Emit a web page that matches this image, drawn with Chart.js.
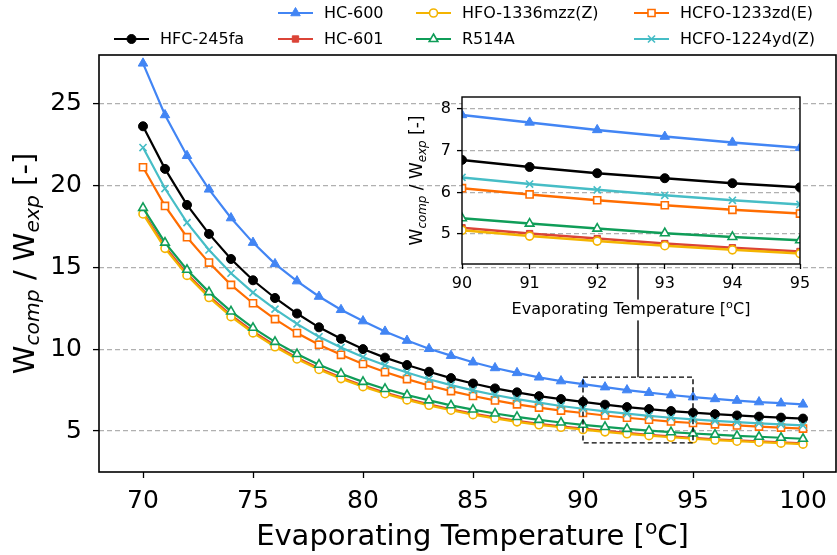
<!DOCTYPE html>
<html>
<head>
<meta charset="utf-8">
<script src="https://cdn.jsdelivr.net/npm/chart.js@4.4.1/dist/chart.umd.min.js"></script>
<style>
  html, body { margin: 0; padding: 0; background: #fff; }
  #wrap { position: relative; width: 837px; height: 555px; }
  #main { position: absolute; left: 0; top: 0; }
  #inset { position: absolute; left: 380px; top: 85px; }
</style>
</head>
<body>
<div id="wrap">
  <canvas id="main" width="837" height="555"></canvas>
  <canvas id="inset" width="457" height="245"></canvas>
</div>
<script>
const temps = [70, 71, 72, 73, 74, 75, 76, 77, 78, 79, 80, 81, 82, 83, 84, 85,
               86, 87, 88, 89, 90, 91, 92, 93, 94, 95, 96, 97, 98, 99, 100];

const hfc245fa   = [23.60, 21.00, 18.80, 17.03, 15.50, 14.20, 13.12, 12.17, 11.33, 10.63, 10.00, 9.48, 9.03, 8.62, 8.23, 7.90, 7.60, 7.36, 7.13, 6.95, 6.78, 6.61, 6.46, 6.34, 6.22, 6.12, 6.03, 5.95, 5.88, 5.82, 5.76];
const hc600      = [27.44, 24.29, 21.80, 19.75, 18.00, 16.50, 15.20, 14.15, 13.21, 12.40, 11.71, 11.08, 10.52, 10.02, 9.60, 9.20, 8.85, 8.55, 8.28, 8.05, 7.86, 7.68, 7.50, 7.34, 7.20, 7.07, 6.96, 6.86, 6.77, 6.70, 6.63];
const hc601      = [18.35, 16.25, 14.60, 13.24, 12.07, 11.08, 10.22, 9.48, 8.83, 8.27, 7.78, 7.35, 6.97, 6.63, 6.33, 6.07, 5.83, 5.62, 5.44, 5.29, 5.15, 5.01, 4.89, 4.77, 4.67, 4.58, 4.50, 4.43, 4.37, 4.31, 4.25];
const hfo1336    = [18.25, 16.15, 14.50, 13.15, 11.98, 10.99, 10.14, 9.40, 8.76, 8.20, 7.71, 7.28, 6.90, 6.57, 6.27, 6.00, 5.77, 5.56, 5.38, 5.23, 5.09, 4.95, 4.83, 4.72, 4.62, 4.53, 4.45, 4.38, 4.32, 4.26, 4.20];
const r514a      = [18.62, 16.50, 14.84, 13.48, 12.30, 11.30, 10.44, 9.70, 9.05, 8.50, 8.00, 7.57, 7.20, 6.87, 6.57, 6.31, 6.07, 5.86, 5.68, 5.52, 5.38, 5.25, 5.13, 5.02, 4.93, 4.85, 4.78, 4.71, 4.65, 4.59, 4.53];
const hcfo1233zd = [21.10, 18.74, 16.83, 15.28, 13.92, 12.80, 11.83, 10.98, 10.27, 9.65, 9.09, 8.60, 8.17, 7.78, 7.44, 7.14, 6.87, 6.63, 6.43, 6.25, 6.10, 5.95, 5.81, 5.69, 5.58, 5.49, 5.41, 5.34, 5.27, 5.21, 5.15];
const hcfo1224yd = [22.30, 19.80, 17.72, 16.05, 14.63, 13.45, 12.44, 11.54, 10.75, 10.10, 9.52, 9.02, 8.57, 8.16, 7.80, 7.48, 7.20, 6.95, 6.73, 6.53, 6.36, 6.20, 6.06, 5.93, 5.81, 5.71, 5.62, 5.54, 5.47, 5.41, 5.35];

const seriesNames = ["HFC-245fa", "HC-600", "HC-601", "HFO-1336mzz(Z)", "R514A", "HCFO-1233zd(E)", "HCFO-1224yd(Z)"];
const seriesData  = [hfc245fa, hc600, hc601, hfo1336, r514a, hcfo1233zd, hcfo1224yd];

const mainXTicks  = [70, 75, 80, 85, 90, 95, 100];
const mainYTicks  = [5, 10, 15, 20, 25];
const insetXTicks = [90, 91, 92, 93, 94, 95];
const insetYTicks = [5, 6, 7, 8];

const MAIN_X = [68, 101.5], MAIN_Y = [2.5, 27.95];
const INSET_X = [90, 95], INSET_Y = [4.28, 8.29];

const FONT = '"DejaVu Sans", sans-serif';
const styles = [
    { color: "#000000", shape: "circle",   fill: true,  r: 4.5 },
    { color: "#4285F4", shape: "triangle", fill: true,  r: 5.5 },
    { color: "#DB4437", shape: "rect",     fill: true,  r: 4.5 },
    { color: "#F4B400", shape: "circle",   fill: false, r: 4 },
    { color: "#0F9D58", shape: "triangle", fill: false, r: 5 },
    { color: "#FF6D01", shape: "rect",     fill: false, r: 5 },
    { color: "#46BDC6", shape: "crossRot", fill: false, r: 5 }
];

function makeDatasets(lw) {
    return seriesData.map((vals, i) => ({
        label: seriesNames[i],
        data: temps.map((t, j) => ({ x: t, y: vals[j] })),
        borderColor: styles[i].color,
        backgroundColor: styles[i].color,
        borderWidth: lw,
        pointStyle: styles[i].shape,
        pointRadius: styles[i].r,
        pointBackgroundColor: styles[i].fill ? styles[i].color : "#ffffff",
        pointBorderColor: styles[i].color,
        pointBorderWidth: styles[i].fill ? 1 : 1.6,
        tension: 0,
        order: -i
    }));
}

function richText(ctx, parts, cx, cy, size, vertical, bg) {
    ctx.save();
    ctx.translate(cx, cy);
    if (vertical) ctx.rotate(-Math.PI / 2);
    const fontOf = p => (p.sub ? "italic " : "") + (p.sub || p.sup ? size * 0.7 : size) + "px " + FONT;
    let w = 0;
    parts.forEach(p => {
        ctx.font = fontOf(p);
        p.w = ctx.measureText(p.t).width;
        w += p.w;
    });
    if (bg) {
        ctx.fillStyle = "#ffffff";
        ctx.fillRect(-w / 2 - 2, -size * 0.65, w + 4, size * 1.3);
    }
    let x = -w / 2;
    ctx.fillStyle = "#000";
    ctx.textAlign = "left";
    ctx.textBaseline = "middle";
    parts.forEach(p => {
        ctx.font = fontOf(p);
        const dy = p.sub ? size * 0.28 : (p.sup ? -size * 0.3 : 0);
        ctx.fillText(p.t, x, dy);
        x += p.w;
    });
    ctx.restore();
}

const yTitle = () => [{ t: "W" }, { t: "comp", sub: true }, { t: " / W" }, { t: "exp", sub: true }, { t: " [-]" }];
const xTitle = () => [{ t: "Evaporating Temperature [" }, { t: "o", sup: true }, { t: "C]" }];

function frame(ctx, a, w) {
    ctx.save();
    ctx.strokeStyle = "#000";
    ctx.lineWidth = w;
    ctx.strokeRect(a.left, a.top, a.right - a.left, a.bottom - a.top);
    ctx.restore();
}

function axes(xr, yr, xt, yt, fs, tl, pad, ywidth, xheight) {
    const tickFont = { family: FONT, size: fs };
    return {
        x: {
            type: "linear",
            min: xr[0], max: xr[1],
            ticks: { color: "#000", font: tickFont, padding: pad.x, maxRotation: 0 },
            border: { display: false },
            grid: { drawOnChartArea: false, drawTicks: true, tickLength: tl, tickColor: "#000", tickWidth: 1.3 },
            afterBuildTicks: s => { s.ticks = xt.map(v => ({ value: v })); },
            afterFit: s => { s.height = xheight; s.paddingLeft = 0; s.paddingRight = 0; }
        },
        y: {
            type: "linear",
            min: yr[0], max: yr[1],
            ticks: { color: "#000", font: tickFont, padding: pad.y },
            grid: { color: "#b0b0b0", lineWidth: 1.2, tickLength: tl, tickColor: "#000", tickWidth: 1.3 },
            border: { display: false, dash: [5, 3] },
            afterBuildTicks: s => { s.ticks = yt.map(v => ({ value: v })); },
            afterFit: s => { s.width = ywidth; s.paddingTop = 0; s.paddingBottom = 0; }
        }
    };
}

// main chart: frame, titles, zoom box, connector, legend
const mainDecor = {
    id: "mainDecor",
    afterDraw(chart) {
        const ctx = chart.ctx, a = chart.chartArea, xs = chart.scales.x, ys = chart.scales.y;
        frame(ctx, a, 1.6);
        richText(ctx, yTitle(), 26, (a.top + a.bottom) / 2, 29, true);
        richText(ctx, xTitle(), (a.left + a.right) / 2 + 5, 537, 29, false);

        // zoomed region box and connector to inset
        const x0 = xs.getPixelForValue(INSET_X[0]), x1 = xs.getPixelForValue(INSET_X[1]);
        const y0 = ys.getPixelForValue(INSET_Y[1]), y1 = ys.getPixelForValue(INSET_Y[0]);
        ctx.save();
        ctx.strokeStyle = "#000";
        ctx.lineWidth = 1.4;
        ctx.setLineDash([5, 3]);
        ctx.strokeRect(x0, y0, x1 - x0, y1 - y0);
        ctx.setLineDash([]);
        const xm = xs.getPixelForValue((INSET_X[0] + INSET_X[1]) / 2);
        ctx.beginPath();
        ctx.moveTo(xm, y0);
        ctx.lineTo(xm, 264);
        ctx.stroke();
        ctx.restore();

        // legend
        const cols = [114, 278, 416, 634], rows = [13, 39];
        const place = [[0, 1], [1, 0], [1, 1], [2, 0], [2, 1], [3, 0], [3, 1]];
        ctx.save();
        ctx.font = "16px " + FONT;
        ctx.textBaseline = "middle";
        seriesNames.forEach((name, i) => {
            const lx = cols[place[i][0]], ly = rows[place[i][1]], st = styles[i];
            ctx.strokeStyle = st.color;
            ctx.lineWidth = 2.2;
            ctx.beginPath();
            ctx.moveTo(lx, ly);
            ctx.lineTo(lx + 35, ly);
            ctx.stroke();
            ctx.fillStyle = st.fill ? st.color : "#fff";
            ctx.lineWidth = st.fill ? 1 : 1.6;
            Chart.helpers.drawPoint(ctx, { pointStyle: st.shape, radius: st.r, rotation: 0, borderWidth: ctx.lineWidth }, lx + 17.5, ly);
            ctx.fillStyle = "#000";
            ctx.fillText(name, lx + 46, ly + 1);
        });
        ctx.restore();
    }
};

new Chart(document.getElementById("main"), {
    type: "line",
    data: { datasets: makeDatasets(2.2) },
    options: {
        responsive: false,
        animation: false,
        devicePixelRatio: 1,
        layout: { autoPadding: false, padding: { left: 0, right: 1, top: 55, bottom: 0 } },
        plugins: { legend: { display: false }, tooltip: { enabled: false } },
        scales: axes(MAIN_X, MAIN_Y, mainXTicks, mainYTicks, 25, 6, { x: 8, y: 11 }, 99, 83)
    },
    plugins: [mainDecor]
});

// inset chart
const insetDecor = {
    id: "insetDecor",
    beforeDraw(chart) {
        const ctx = chart.ctx, a = chart.chartArea;
        ctx.save();
        ctx.fillStyle = "#fff";
        ctx.fillRect(a.left, a.top, a.right - a.left, a.bottom - a.top);
        ctx.restore();
    },
    afterDraw(chart) {
        const ctx = chart.ctx, a = chart.chartArea;
        frame(ctx, a, 1.4);
        richText(ctx, yTitle(), 38, (a.top + a.bottom) / 2, 17, true);
        richText(ctx, xTitle(), (a.left + a.right) / 2, 225, 16, false, true);
    }
};

new Chart(document.getElementById("inset"), {
    type: "line",
    data: { datasets: makeDatasets(2.5) },
    options: {
        responsive: false,
        animation: false,
        devicePixelRatio: 1,
        layout: { autoPadding: false, padding: { left: 0, right: 37, top: 12, bottom: 0 } },
        plugins: { legend: { display: false }, tooltip: { enabled: false } },
        scales: axes(INSET_X, INSET_Y, insetXTicks, insetYTicks, 16, 5, { x: 5, y: 6 }, 82, 66)
    },
    plugins: [insetDecor]
});
</script>
</body>
</html>
